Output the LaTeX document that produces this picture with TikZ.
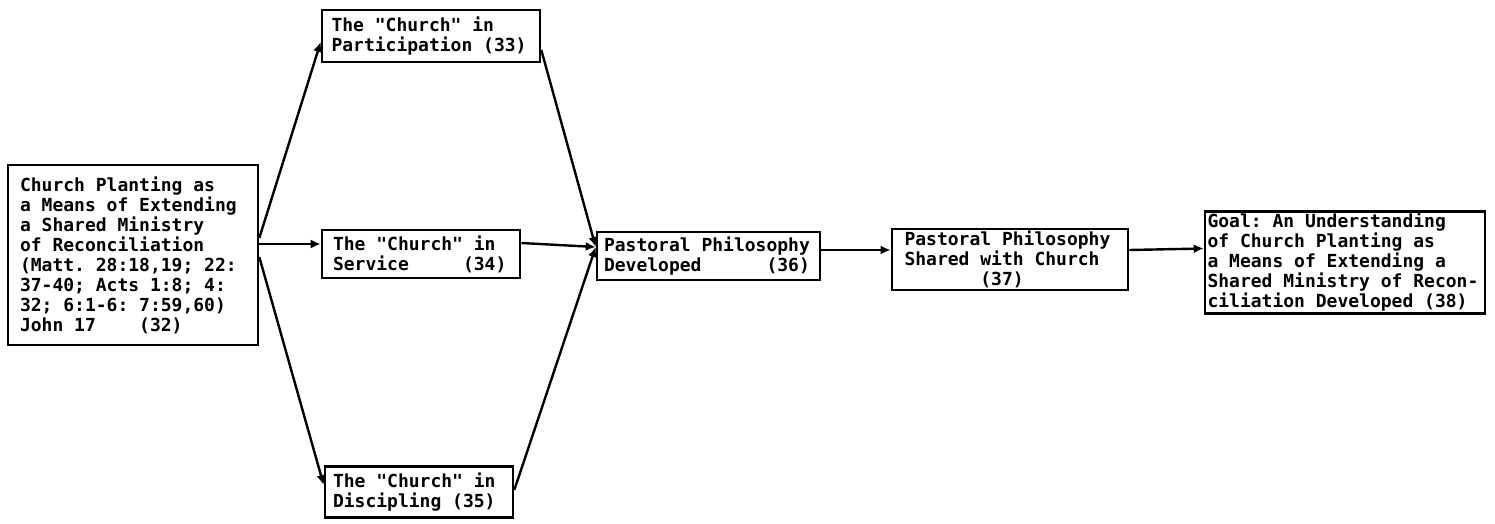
\documentclass[tikz,border=0pt]{standalone}
\usepackage{fontspec}
\setmonofont{DejaVu Sans Mono}
\usepackage{tikz}
\usetikzlibrary{arrows.meta,positioning,calc}

\newcommand{\gothicfont}{\ttfamily\bfseries\fontsize{9}{10}\selectfont}

\begin{document}
\begin{tikzpicture}[
    x=0.5pt, y=-0.5pt,
    box/.style={draw, line width=1.3pt, align=left, inner sep=1pt, font=\gothicfont,
        execute at begin node={\spaceskip=5.42pt\xspaceskip=5.42pt}},
    arrow/.style={-{Latex[length=5pt,width=4.5pt]}, line width=1.2pt}
]
\useasboundingbox (0,0) rectangle (1495,524);

% --- source and the three church boxes ---
\node[box, minimum width=125pt, minimum height=90pt, text width=113pt] (src) at (133,255)
    {Church Planting as\\a Means of Extending\\a Shared Ministry\\of Reconciliation\\(Matt. 28:18,19; 22:\\37-40; Acts 1:8; 4:\\32; 6:1-6: 7:59,60)\\John 17~~~~(32)};
\node[box, minimum width=109pt, minimum height=26pt, text width=99.5pt] (part) at (431,36)
    {The "Church" in\\Participation (33)};
\node[box, minimum width=99pt, minimum height=24pt, text width=88pt] (serv) at (421,254)
    {The "Church" in\\Service~~~~~(34)};
\node[box, minimum width=94pt, minimum height=25.5pt, text width=86pt] (disc) at (419,492)
    {The "Church" in\\Discipling (35)};

% --- philosophy and goal ---
\node[box, minimum width=111.5pt, minimum height=24pt, text width=104.5pt] (phil) at (708.5,256)
    {Pastoral Philosophy\\Developed~~~~~~(36)};
\node[box, minimum width=118pt, minimum height=26.5pt, text width=105.5pt] (share) at (1010,259.5)
    {Pastoral Philosophy\\Shared with Church\\~~~~~~~(37)};
\node[box, minimum width=140pt, minimum height=49.5pt, text width=137.5pt] (goal) at (1345,262.5)
    {Goal: An Understanding\\of Church Planting as\\a Means of Extending a\\Shared Ministry of Recon-\\ciliation Developed (38)};

\draw[arrow] ([yshift=8.5pt]src.east) -- ([yshift=-3pt]part.west);
\draw[arrow] ([yshift=5.5pt]src.east) -- ([yshift=5pt]serv.west);
\draw[arrow] ([yshift=-1pt]src.east) -- ([yshift=3.5pt]disc.west);

\draw[arrow] ([yshift=-7pt]part.east) -- ([yshift=4.5pt]phil.west);
\draw[arrow] ([yshift=5.5pt]serv.east) -- ([yshift=4.5pt]phil.west);
\draw[arrow] ([yshift=1pt]disc.east) -- ([yshift=4.5pt]phil.west);

\draw[arrow] ([yshift=3pt]phil.east) -- ([yshift=4.75pt]share.west);
\draw[arrow] ([yshift=4.75pt]share.east) -- ([yshift=7pt]goal.west);

\end{tikzpicture}
\end{document}
